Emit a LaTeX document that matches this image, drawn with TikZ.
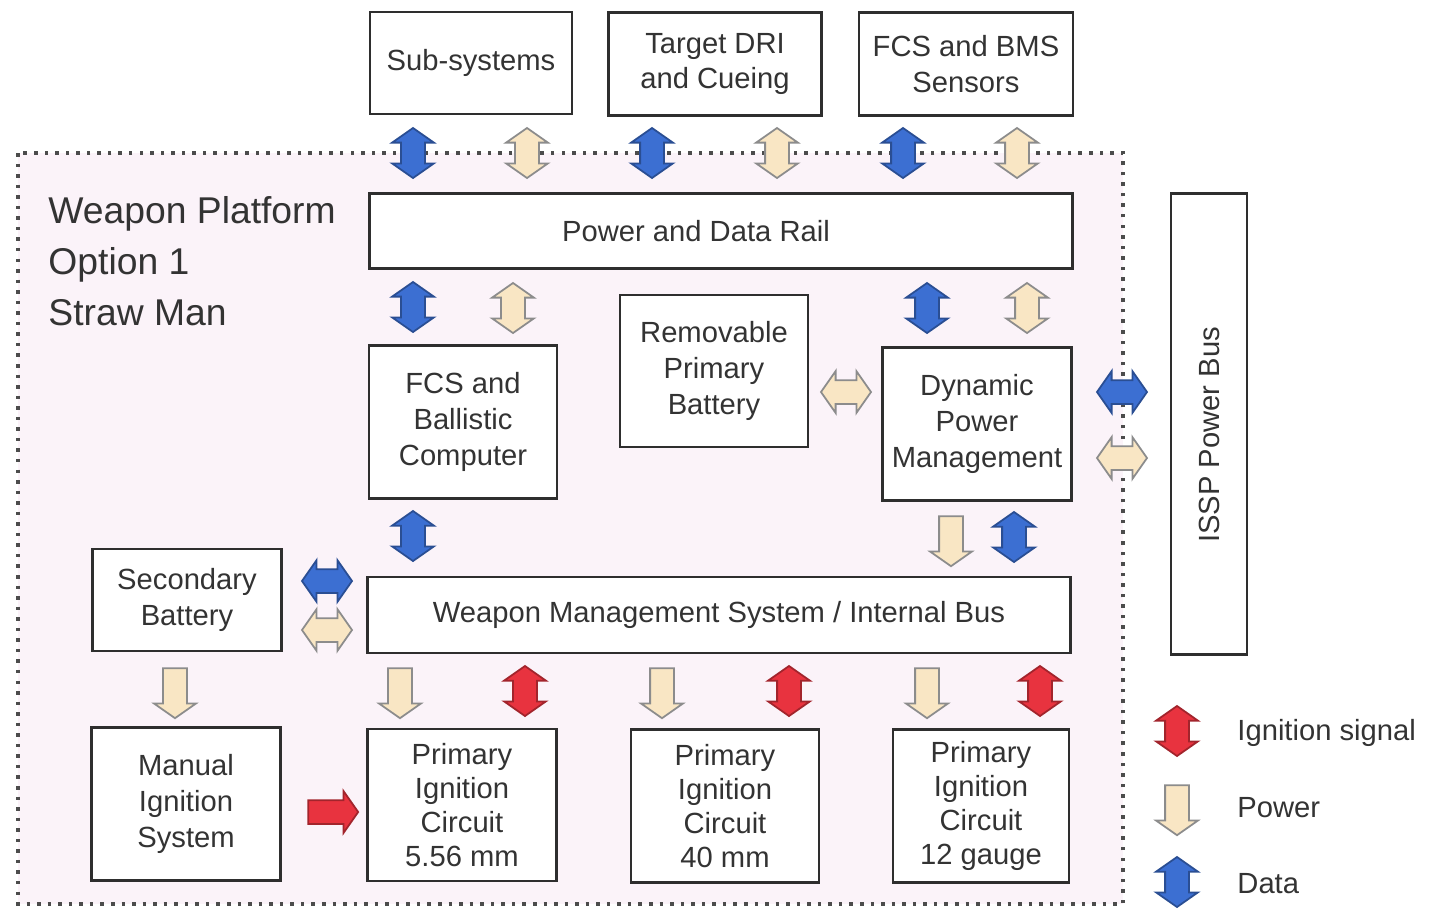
\documentclass[tikz,border=0pt]{standalone}
\usepackage{fontspec}
\setmainfont{Liberation Sans}
\usetikzlibrary{shapes.arrows}
\definecolor{wpink}{HTML}{FBF3F9}
\definecolor{wline}{HTML}{2E2E2E}
\definecolor{wtext}{HTML}{333333}
\definecolor{wblue}{HTML}{3C6FD2}
\definecolor{wtan}{HTML}{F9E6C4}
\definecolor{wred}{HTML}{E8333F}

\begin{document}
\begin{tikzpicture}[x=0.01cm, y=-0.01cm, font=\fontsize{8.3}{10.2}\selectfont, text=wtext,
    box/.style={draw=wline, line width=0.8pt, fill=white, align=center, inner sep=1pt},
    tall/.style={box, font=\fontsize{8.3}{9.7}\selectfont},
    dbl/.style={double arrow, minimum height=0.5cm, inner xsep=0pt, inner ysep=0.11cm,
      double arrow head extend=0.09cm, double arrow tip angle=110, line width=0.5pt},
    sgl/.style={single arrow, minimum height=0.5cm, inner xsep=0pt, inner ysep=0.11cm,
      single arrow head extend=0.09cm, single arrow tip angle=110, line width=0.5pt},
    dat/.style={dbl, fill=wblue, draw=wblue!70!black},
    pwr/.style={dbl, fill=wtan, draw=black!45},
    pwrdown/.style={sgl, fill=wtan, draw=black!45, rotate=-90},
    ign/.style={dbl, fill=wred, draw=wred!70!black},
    ignright/.style={sgl, fill=wred, draw=wred!70!black}]
  \useasboundingbox (0,0) rectangle (1433,908);
  % cornice tratteggiata
  \draw[fill=wpink, draw=black!70, line width=1pt, dotted] (18,153) rectangle (1123,904);
  \node[anchor=north west, align=left, font=\fontsize{10.6}{14.5}\selectfont] (title) at (36,184)
    {Weapon Platform\\Option 1\\Straw Man};
  % riquadri in alto
  \node[box, minimum width=2.02cm, minimum height=1.02cm] (sub) at (471,63) {Sub-systems};
  \node[box, minimum width=2.13cm, minimum height=1.03cm] (tdri) at (715,64) {Target DRI\\and Cueing};
  \node[box, minimum width=2.14cm, minimum height=1.03cm] (sens) at (966,64) {FCS and BMS\\Sensors};
  % rail
  \node[box, minimum width=7.02cm, minimum height=0.75cm] (rail) at (721,231) {Power and Data Rail\hspace{0.5cm}};
  % blocchi centrali
  \node[box, minimum width=1.88cm, minimum height=1.53cm] (fcs) at (463,422) {FCS and\\Ballistic\\Computer};
  \node[box, minimum width=1.88cm, minimum height=1.52cm] (rbat) at (714,371) {Removable\\Primary\\Battery};
  \node[box, minimum width=1.89cm, minimum height=1.53cm] (dpm) at (977,424) {Dynamic\\Power\\Management};
  \node[box, minimum width=0.76cm, minimum height=4.61cm] (issp) at (1209,424) {};
  \node[rotate=90] (issplbl) at (1209,435) {ISSP Power Bus};
  % bus interno
  \node[box, minimum width=1.89cm, minimum height=1.02cm] (sbat) at (187,600) {Secondary\\Battery};
  \node[box, minimum width=7.02cm, minimum height=0.76cm] (wms) at (719,615) {Weapon Management System / Internal Bus};
  % circuiti di accensione
  \node[box, minimum width=1.89cm, minimum height=1.53cm] (mis) at (186,804) {Manual\\Ignition\\System};
  \node[tall, minimum width=1.89cm, minimum height=1.52cm] (pic1) at (462,805) {Primary\\Ignition\\Circuit\\5.56 mm};
  \node[tall, minimum width=1.88cm, minimum height=1.53cm] (pic2) at (725,806) {Primary\\Ignition\\Circuit\\40 mm};
  \node[tall, minimum width=1.76cm, minimum height=1.53cm] (pic3) at (981,806) {Primary\\Ignition\\Circuit\\12 gauge};
  % frecce verso il rail
  \node[dat, rotate=90] (dsub) at (413,153) {};
  \node[pwr, rotate=90] (psub) at (527,153) {};
  \node[dat, rotate=90] (dtdri) at (652,153) {};
  \node[pwr, rotate=90] (ptdri) at (777,153) {};
  \node[dat, rotate=90] (dsens) at (903,153) {};
  \node[pwr, rotate=90] (psens) at (1017,153) {};
  \node[dat, rotate=90] (dfcs) at (413,307) {};
  \node[pwr, rotate=90] (pfcs) at (513,308) {};
  \node[dat, rotate=90] (ddpm) at (927,308) {};
  \node[pwr, rotate=90] (pdpm) at (1027,308) {};
  % frecce laterali
  \node[pwr] (prbat) at (846,392) {};
  \node[dat] (dissp) at (1122,392) {};
  \node[pwr] (pissp) at (1122,458) {};
  \node[dat, rotate=90] (dwms) at (413,536) {};
  \node[pwrdown] (pwms) at (951,537) {};
  \node[dat, rotate=90] (dwms2) at (1014,537) {};
  \node[dat] (dsbat) at (327,581) {};
  \node[pwr] (psbat) at (327,630) {};
  % frecce verso i circuiti
  \node[pwrdown] (pmis) at (175,689) {};
  \node[pwrdown] (ppic1) at (400,689) {};
  \node[ign, rotate=90] (ipic1) at (525,691) {};
  \node[pwrdown] (ppic2) at (662,689) {};
  \node[ign, rotate=90] (ipic2) at (789,691) {};
  \node[pwrdown] (ppic3) at (927,689) {};
  \node[ign, rotate=90] (ipic3) at (1040,691) {};
  \node[ignright] (imis) at (329,812) {};
  % legenda
  \node[ign, rotate=90] (lign) at (1177,731) {};
  \node[pwrdown] (lpwr) at (1177,806) {};
  \node[dat, rotate=90] (ldat) at (1177,882) {};
  \node[anchor=west] (tign) at (1225,733) {Ignition signal};
  \node[anchor=west] (tpwr) at (1225,808) {Power};
  \node[anchor=west] (tdat) at (1225,884) {Data};
\end{tikzpicture}
\end{document}
